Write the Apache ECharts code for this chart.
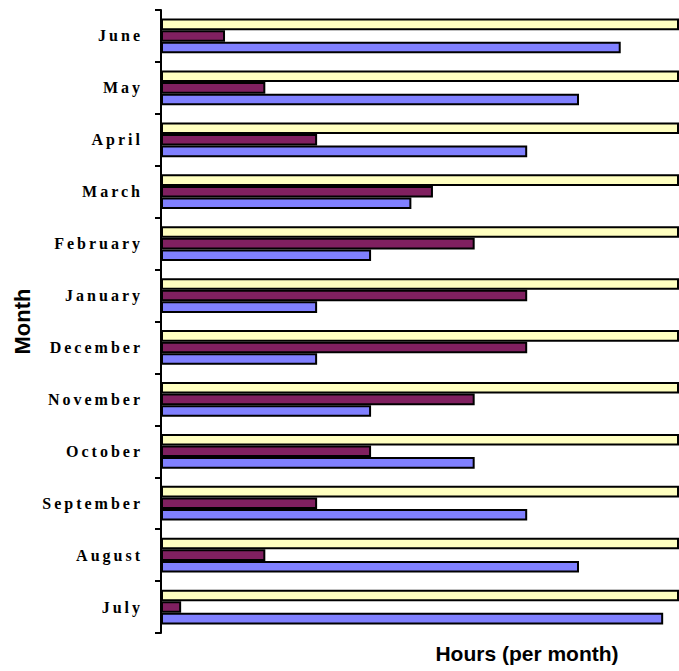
<!DOCTYPE html>
<html>
<head>
<meta charset="utf-8">
<script src="https://cdn.jsdelivr.net/npm/echarts@6/dist/echarts.min.js"></script>
<style>
html, body { margin: 0; padding: 0; background: #fff; }
#chart { width: 679px; height: 671px; }
svg text[style*="Serif"] { letter-spacing: 3px; }
</style>
</head>
<body>
<div id="chart"></div>
<script>
// Categories (bottom to top)
const months = ['July', 'August', 'September', 'October', 'November', 'December',
                'January', 'February', 'March', 'April', 'May', 'June'];
// Series values (hours per month)
const blueHours   = [698, 581, 509, 436, 292, 217, 217, 292, 348, 509, 581, 639];
const purpleHours = [28, 145, 217, 292, 436, 509, 509, 436, 378, 217, 145, 89];
const yellowHours = [720, 720, 720, 720, 720, 720, 720, 720, 720, 720, 720, 720];
const xMax = 720;

const chart = echarts.init(document.getElementById('chart'), null, { renderer: 'svg' });
const border = { borderColor: '#000', borderWidth: 2 };
chart.setOption({
  animation: false,
  backgroundColor: '#fff',
  grid: { left: 161, right: 0, top: 10, bottom: 38, containLabel: false },
  xAxis: {
    type: 'value', min: 0, max: xMax,
    axisLine: { show: false }, axisTick: { show: false },
    axisLabel: { show: false }, splitLine: { show: false },
    name: 'Hours (per month)', nameLocation: 'middle', nameGap: 10,
    nameTextStyle: { fontFamily: 'Liberation Sans', fontWeight: 'bold', fontSize: 21,
                     color: '#000', padding: [0, 0, 0, 214], verticalAlign: 'top' }
  },
  yAxis: {
    type: 'category', data: months,
    axisLine: { show: true, lineStyle: { color: '#000', width: 2 } },
    axisTick: { show: true, length: 6, lineStyle: { color: '#000', width: 2 } },
    axisLabel: { fontFamily: 'Liberation Serif', fontWeight: 'bold', fontSize: 16,
                 color: '#000', margin: 18 },
    name: 'Month', nameLocation: 'middle', nameGap: 128, nameRotate: 90,
    nameTextStyle: { fontFamily: 'Liberation Sans', fontWeight: 'bold', fontSize: 22, color: '#000' }
  },
  series: [
    { name: 'Yellow', type: 'bar', data: yellowHours, barGap: '0%', barCategoryGap: '33%',
      itemStyle: Object.assign({ color: '#FFFFC0' }, border) },
    { name: 'Purple', type: 'bar', data: purpleHours, barGap: '0%', barCategoryGap: '33%',
      itemStyle: Object.assign({ color: '#802060' }, border) },
    { name: 'Blue', type: 'bar', data: blueHours, barGap: '0%', barCategoryGap: '33%',
      itemStyle: Object.assign({ color: '#8080FF' }, border) }
  ]
});
</script>
</body>
</html>
